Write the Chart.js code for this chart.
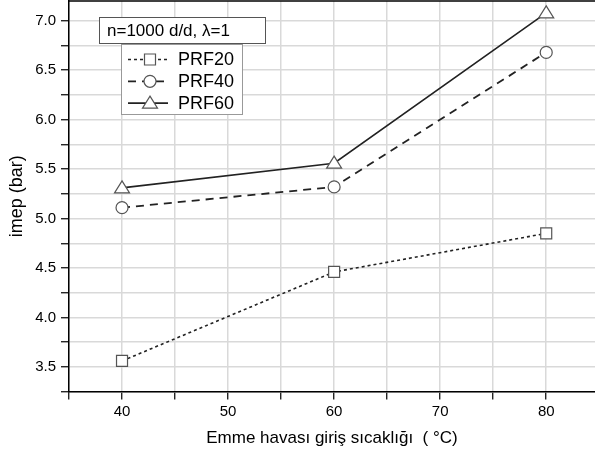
<!DOCTYPE html>
<html>
<head>
<meta charset="utf-8">
<script src="https://cdn.jsdelivr.net/npm/chart.js@4/dist/chart.umd.min.js"></script>
<style>
  html, body { margin: 0; padding: 0; background: #fff; overflow: hidden; }
</style>
</head>
<body>
<canvas id="chart" width="595" height="455"></canvas>
<script>
// data
const temps = [40, 60, 80];
const prf20 = [3.56, 4.46, 4.85];
const prf40 = [5.11, 5.32, 6.68];
const prf60 = [5.31, 5.56, 7.08];
const seriesNames = ["PRF20", "PRF40", "PRF60"];
const xTicks = [35, 40, 45, 50, 55, 60, 65, 70, 75, 80];
const yTicks = [3.25, 3.5, 3.75, 4.0, 4.25, 4.5, 4.75, 5.0, 5.25, 5.5, 5.75, 6.0, 6.25, 6.5, 6.75, 7.0];
const boxTitle = "n=1000 d/d, \u03bb=1";

const font = "'Liberation Sans', Arial, sans-serif";
const ink = "#222";
const gridColor = "#d9d9d9";

function pts(ys) {
    return temps.map((t, i) => ({ x: t, y: ys[i] }));
}

// draw one marker shape
function marker(ctx, style, x, y) {
    ctx.save();
    ctx.setLineDash([]);
    ctx.lineWidth = 1.2;
    ctx.strokeStyle = "#555";
    ctx.fillStyle = "#fff";
    ctx.beginPath();
    if (style === "rect") {
        ctx.rect(x - 5.5, y - 5.5, 11, 11);
    } else if (style === "circle") {
        ctx.arc(x, y, 6, 0, Math.PI * 2);
    } else {
        ctx.moveTo(x, y - 7);
        ctx.lineTo(x + 7.5, y + 5);
        ctx.lineTo(x - 7.5, y + 5);
        ctx.closePath();
    }
    ctx.fill();
    ctx.stroke();
    ctx.restore();
}

// frame top + title box + legend box
const decorations = {
    id: "decorations",
    afterDraw(chart) {
        const ctx = chart.ctx;
        const area = chart.chartArea;
        ctx.save();
        ctx.strokeStyle = "#000";
        ctx.lineWidth = 1.5;
        ctx.beginPath();
        ctx.moveTo(area.left, area.top);
        ctx.lineTo(area.right, area.top);
        ctx.stroke();

        // title box
        ctx.fillStyle = "#fff";
        ctx.strokeStyle = "#555";
        ctx.lineWidth = 1;
        ctx.fillRect(99, 17, 166, 26);
        ctx.strokeRect(99.5, 17.5, 166, 26);
        ctx.fillStyle = "#000";
        ctx.font = "17px " + font;
        ctx.textBaseline = "middle";
        ctx.fillText(boxTitle, 107, 31);

        // legend box
        ctx.fillStyle = "#fff";
        ctx.fillRect(121, 44, 121, 70);
        ctx.strokeStyle = "#999";
        ctx.strokeRect(121.5, 44.5, 121, 70);

        chart.data.datasets.forEach((ds, i) => {
            const y = 59.5 + i * 21.8;
            ctx.save();
            ctx.strokeStyle = ds.borderColor;
            ctx.lineWidth = ds.borderWidth;
            ctx.setLineDash(ds.borderDash || []);
            ctx.beginPath();
            ctx.moveTo(128, y);
            ctx.lineTo(168, y);
            ctx.stroke();
            ctx.restore();
            marker(ctx, ds.pointStyle, 150, y);
            ctx.fillStyle = "#000";
            ctx.font = "18px " + font;
            ctx.textBaseline = "middle";
            ctx.fillText(ds.label, 178, y + 1);
        });
        ctx.restore();
    }
};

// custom point markers drawn over the lines
const markers = {
    id: "markers",
    afterDatasetsDraw(chart) {
        const ctx = chart.ctx;
        chart.data.datasets.forEach((ds, i) => {
            chart.getDatasetMeta(i).data.forEach(p => marker(ctx, ds.pointStyle, p.x, p.y));
        });
    }
};

new Chart(document.getElementById("chart"), {
    type: "line",
    data: {
        datasets: [
            { label: seriesNames[0], data: pts(prf20), borderColor: ink, borderWidth: 1.6, borderDash: [3, 3], pointStyle: "rect" },
            { label: seriesNames[1], data: pts(prf40), borderColor: ink, borderWidth: 1.8, borderDash: [8, 6], pointStyle: "circle" },
            { label: seriesNames[2], data: pts(prf60), borderColor: ink, borderWidth: 1.6, pointStyle: "triangle" }
        ]
    },
    options: {
        responsive: false,
        animation: false,
        events: [],
        elements: { point: { radius: 0 }, line: { tension: 0 } },
        layout: { padding: { top: 1, right: 0, bottom: 0, left: 0 } },
        plugins: { legend: { display: false }, tooltip: { enabled: false } },
        scales: {
            x: {
                type: "linear",
                min: 35,
                max: 84.6,
                afterBuildTicks: s => { s.ticks = xTicks.map(v => ({ value: v })); },
                afterFit: s => { s.paddingLeft = 0; s.paddingRight = 0; },
                ticks: {
                    color: "#000",
                    font: { family: font, size: 15 },
                    padding: 3,
                    maxRotation: 0,
                    autoSkip: false,
                    callback: v => (v % 10 === 0 ? String(v) : "")
                },
                grid: { color: gridColor, tickColor: "#000", tickLength: 8, lineWidth: 1.5, tickWidth: 1.2 },
                border: { color: "#000", width: 1.5 },
                title: {
                    display: true,
                    text: "Emme havas\u0131 giri\u015f s\u0131cakl\u0131\u011f\u0131  ( \u00b0C)",
                    color: "#000",
                    font: { family: font, size: 17 },
                    padding: { top: 5, bottom: 6 }
                }
            },
            y: {
                min: 3.25,
                max: 7.2,
                afterBuildTicks: s => { s.ticks = yTicks.map(v => ({ value: v })); },
                afterFit: s => { s.width = 69; s.paddingTop = 0; s.paddingBottom = 0; },
                ticks: {
                    color: "#000",
                    font: { family: font, size: 15 },
                    padding: 5,
                    autoSkip: false,
                    callback: v => (Math.abs(v * 2 - Math.round(v * 2)) < 1e-6 ? v.toFixed(1) : "")
                },
                grid: { color: gridColor, tickColor: "#000", tickLength: 8, lineWidth: 1.5, tickWidth: 1.2 },
                border: { color: "#000", width: 1.5 },
                title: {
                    display: true,
                    text: "imep (bar)",
                    color: "#000",
                    font: { family: font, size: 18 },
                    padding: { top: 6, bottom: 0 }
                }
            }
        }
    },
    plugins: [markers, decorations]
});
</script>
</body>
</html>
